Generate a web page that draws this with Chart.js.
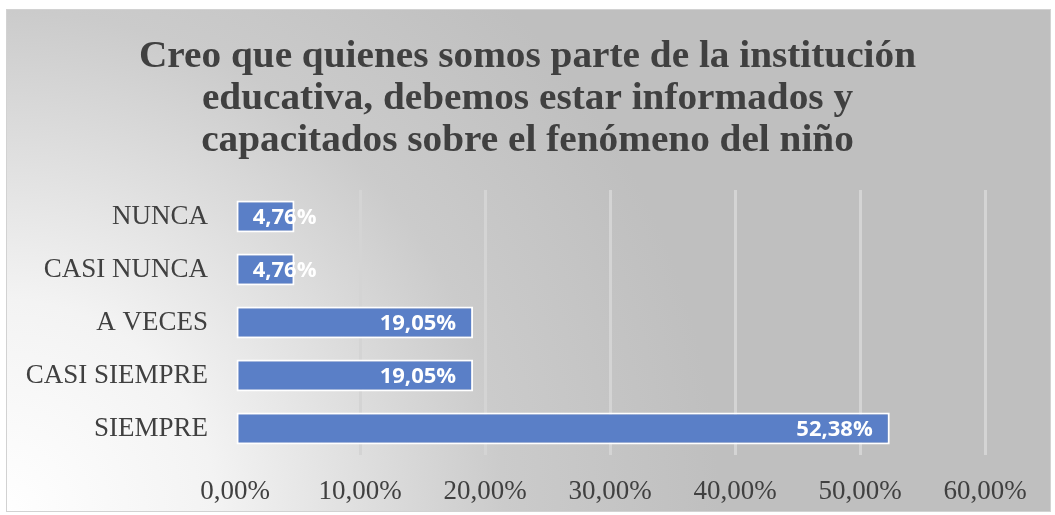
<!DOCTYPE html>
<html>
<head>
<meta charset="utf-8">
<title>Creo que quienes somos parte de la institución</title>
<script src="https://cdn.jsdelivr.net/npm/chart.js"></script>
<style>
  html, body { margin: 0; padding: 0; background: #ffffff; }
  #wrap { width: 1055px; height: 515px; }
</style>
</head>
<body>
<div id="wrap"><canvas id="barChart"></canvas></div>
<script>
  const categories = ['NUNCA', 'CASI NUNCA', 'A VECES', 'CASI SIEMPRE', 'SIEMPRE'];
  const percents = [4.76, 4.76, 19.05, 19.05, 52.38];
  const xTicks = [0, 10, 20, 30, 40, 50, 60];
  const titleLines = [
    'Creo que quienes somos parte de la institución',
    'educativa, debemos estar informados y',
    'capacitados sobre el fenómeno del niño'
  ];

  const fmt = v => v.toFixed(2).replace('.', ',') + '%';

  // gray panel with the light corner at bottom-left, plus the title
  const panelBg = {
    id: 'panelBg',
    beforeDraw(chart) {
      const ctx = chart.ctx;
      ctx.save();
      ctx.fillStyle = '#ffffff';
      ctx.fillRect(0, 0, chart.width, chart.height);
      const g = ctx.createRadialGradient(0, 515, 0, 0, 515, 720);
      g.addColorStop(0, '#ffffff');
      g.addColorStop(0.3, '#f3f3f3');
      g.addColorStop(0.55, '#dadada');
      g.addColorStop(0.7, '#cbcbcb');
      g.addColorStop(1, '#bfbfbf');
      ctx.fillStyle = g;
      ctx.fillRect(6, 9, 1045, 503);
      ctx.strokeStyle = '#d2d2d2';
      ctx.lineWidth = 1;
      ctx.strokeRect(6.5, 9.5, 1044, 502);

      // title: slightly widened bold serif
      ctx.font = 'bold 37px "Liberation Serif"';
      ctx.fillStyle = '#404040';
      ctx.textAlign = 'center';
      ctx.textBaseline = 'alphabetic';
      const sx = 777 / ctx.measureText(titleLines[0]).width;
      const cx = chart.width / 2;
      titleLines.forEach((line, i) => {
        ctx.save();
        ctx.translate(cx, 67 + i * 42);
        ctx.scale(sx, 1);
        ctx.fillText(line, 0, 0);
        ctx.restore();
      });
      ctx.restore();
    }
  };

  // value labels, right aligned near the bar end
  const valueLabels = {
    id: 'valueLabels',
    afterDatasetsDraw(chart) {
      const ctx = chart.ctx;
      const meta = chart.getDatasetMeta(0);
      ctx.save();
      ctx.font = 'bold 22px "Open Sans"';
      ctx.fillStyle = '#ffffff';
      ctx.textAlign = 'right';
      ctx.textBaseline = 'middle';
      meta.data.forEach((bar, i) => {
        const x = Math.max(bar.x - 17, bar.base + 80);
        ctx.fillText(fmt(percents[i]), x, bar.y + 1);
      });
      ctx.restore();
    }
  };

  const ctx = document.getElementById('barChart').getContext('2d');
  new Chart(ctx, {
    type: 'bar',
    data: {
      labels: categories,
      datasets: [{
        data: percents,
        backgroundColor: '#5a7fc7',
        borderColor: '#ffffff',
        borderWidth: 2,
        borderSkipped: false,
        categoryPercentage: 1,
        barPercentage: 0.6
      }]
    },
    options: {
      indexAxis: 'y',
      responsive: true,
      maintainAspectRatio: false,
      animation: false,
      layout: { padding: { left: 6, right: 70, top: 190, bottom: 0 } },
      plugins: {
        legend: { display: false },
        tooltip: { enabled: false },
        title: { display: false }
      },
      scales: {
        x: {
          min: 0,
          max: 60,
          afterBuildTicks: axis => { axis.ticks = xTicks.map(v => ({ value: v })); },
          grid: {
            color: ctx => ctx.tick && ctx.tick.value === 0 ? 'rgba(0,0,0,0)' : '#d4d4d4',
            lineWidth: 3,
            drawTicks: false
          },
          border: { display: false },
          ticks: {
            padding: 21,
            color: '#404040',
            font: { family: '"Liberation Serif"', size: 27 },
            callback: v => fmt(v)
          },
          afterFit: axis => { axis.height = 60; }
        },
        y: {
          grid: { display: false, drawTicks: false },
          border: { display: false },
          ticks: {
            padding: 27,
            color: '#404040',
            font: { family: '"Liberation Serif"', size: 27 }
          },
          afterFit: axis => { axis.width = 229; }
        }
      }
    },
    plugins: [panelBg, valueLabels]
  });
</script>
</body>
</html>
